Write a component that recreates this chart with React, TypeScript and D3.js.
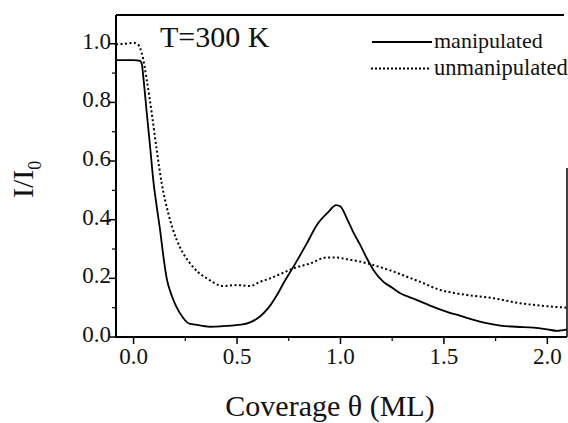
import React from "react";
import * as d3 from "d3";

const manipX = [-0.085, 0.0, 0.03, 0.04, 0.047, 0.064, 0.08, 0.096, 0.112, 0.128, 0.145, 0.16, 0.185, 0.209, 0.24, 0.265, 0.3, 0.37, 0.42, 0.467, 0.52, 0.563, 0.596, 0.628, 0.66, 0.693, 0.73, 0.773, 0.838, 0.886, 0.942, 0.979, 1.0, 1.031, 1.06, 1.096, 1.13, 1.16, 1.208, 1.25, 1.289, 1.33, 1.37, 1.43, 1.515, 1.58, 1.644, 1.7, 1.773, 1.85, 1.934, 2.0, 2.047, 2.095];
const manipY = [0.944, 0.944, 0.942, 0.93, 0.887, 0.762, 0.648, 0.53, 0.444, 0.365, 0.27, 0.2, 0.14, 0.1, 0.065, 0.047, 0.042, 0.035, 0.036, 0.039, 0.042, 0.05, 0.062, 0.081, 0.107, 0.143, 0.19, 0.24, 0.32, 0.382, 0.427, 0.45, 0.445, 0.404, 0.36, 0.313, 0.265, 0.228, 0.188, 0.168, 0.149, 0.137, 0.126, 0.108, 0.086, 0.072, 0.058, 0.048, 0.039, 0.035, 0.032, 0.026, 0.021, 0.026];

const unmanX = [-0.085, -0.04, 0.0, 0.02, 0.04, 0.064, 0.088, 0.112, 0.136, 0.168, 0.209, 0.24, 0.273, 0.31, 0.354, 0.434, 0.499, 0.563, 0.612, 0.66, 0.72, 0.773, 0.854, 0.934, 0.983, 1.031, 1.096, 1.16, 1.257, 1.33, 1.386, 1.483, 1.55, 1.612, 1.74, 1.869, 1.982, 2.095];
const unmanY = [0.998, 1.0, 1.003, 0.998, 0.967, 0.876, 0.762, 0.637, 0.524, 0.421, 0.33, 0.285, 0.251, 0.222, 0.2, 0.174, 0.177, 0.174, 0.188, 0.2, 0.218, 0.234, 0.251, 0.271, 0.271, 0.265, 0.257, 0.245, 0.223, 0.203, 0.188, 0.16, 0.15, 0.143, 0.132, 0.115, 0.106, 0.1];

const xMajorTicks = [0.0, 0.5, 1.0, 1.5, 2.0];
const xMinorTicks = [0.25, 0.75, 1.25, 1.75];
const yMajorTicks = [0.0, 0.2, 0.4, 0.6, 0.8, 1.0];
const yMinorTicks = [0.1, 0.3, 0.5, 0.7, 0.9];
const legendLabels = ["manipulated", "unmanipulated"];
const annotation = "T=300 K";
const xTitle = "Coverage \u03b8 (ML)";

const W = 568;
const H = 423;
const L = 116, R = 567, T = 15, B = 337;
const FONT = '"Liberation Serif", "DejaVu Serif", serif';
const ts = { fontFamily: FONT };

export default function App() {
  const x = d3.scaleLinear().domain([-0.085, 2.095]).range([L, R]);
  const y = d3.scaleLinear().domain([0, 1.098]).range([B, T]);
  const line = d3
    .line<[number, number]>()
    .x((d) => x(d[0]))
    .y((d) => y(d[1]))
    .curve(d3.curveMonotoneX);
  const manip: [number, number][] = manipX.map((v, i) => [v, manipY[i]]);
  const unman: [number, number][] = unmanX.map((v, i) => [v, unmanY[i]]);
  const fmt = d3.format(".1f");

  return (
    <svg
      width={W}
      height={H}
      style={{ position: "absolute", left: 0, top: 0, background: "#fff" }}
    >
      <rect x={0} y={0} width={W} height={H} fill="#fff" />
      {/* axes frame */}
      <line x1={L} y1={T} x2={L} y2={B + 1} stroke="#000" strokeWidth={2} />
      <line x1={L - 1} y1={B} x2={R} y2={B} stroke="#000" strokeWidth={2} />
      <line x1={L} y1={T} x2={564} y2={T} stroke="#000" strokeWidth={2} />
      <line x1={R} y1={168} x2={R} y2={B} stroke="#000" strokeWidth={1.5} />

      {/* y ticks */}
      {yMajorTicks.map((t) => (
        <g key={"ym" + t}>
          <line x1={L - 7} x2={L} y1={y(t)} y2={y(t)} stroke="#000" strokeWidth={1.5} />
          <text x={L - 5} y={y(t) + 5} fontSize={23} textAnchor="end" fill="#111" style={ts}>
            {fmt(t)}
          </text>
        </g>
      ))}
      {yMinorTicks.map((t) => (
        <line key={"yn" + t} x1={L - 4} x2={L} y1={y(t)} y2={y(t)} stroke="#000" strokeWidth={1.2} />
      ))}

      {/* x ticks */}
      {xMajorTicks.map((t) => (
        <g key={"xm" + t}>
          <line x1={x(t)} x2={x(t)} y1={B} y2={B + 7} stroke="#000" strokeWidth={1.5} />
          <text x={x(t)} y={364} fontSize={23} textAnchor="middle" fill="#111" style={ts}>
            {fmt(t)}
          </text>
        </g>
      ))}
      {xMinorTicks.map((t) => (
        <line key={"xn" + t} x1={x(t)} x2={x(t)} y1={B} y2={B + 4} stroke="#000" strokeWidth={1.2} />
      ))}

      {/* curves */}
      <path d={line(unman) || ""} fill="none" stroke="#000" strokeWidth={2} strokeDasharray="2,2.5" />
      <path d={line(manip) || ""} fill="none" stroke="#000" strokeWidth={1.8} />

      {/* annotation */}
      <text x={160} y={47} fontSize={30} fill="#111" style={ts}>
        {annotation}
      </text>

      {/* legend */}
      <line x1={372} x2={432} y1={42} y2={42} stroke="#000" strokeWidth={1.8} />
      <text x={434} y={48} fontSize={22} fill="#111" style={ts}>
        {legendLabels[0]}
      </text>
      <line x1={371} x2={431} y1={68.5} y2={68.5} stroke="#000" strokeWidth={2} strokeDasharray="2,2" />
      <text x={434} y={75} fontSize={22.5} fill="#111" style={ts}>
        {legendLabels[1]}
      </text>

      {/* axis titles */}
      <text x={330} y={416} fontSize={30} textAnchor="middle" fill="#111" style={ts}>
        {xTitle}
      </text>
      <text transform="translate(33,198) rotate(-90)" fontSize={30} fill="#111" style={ts}>
        I/I
        <tspan fontSize={18} dy={8}>
          0
        </tspan>
      </text>
    </svg>
  );
}
